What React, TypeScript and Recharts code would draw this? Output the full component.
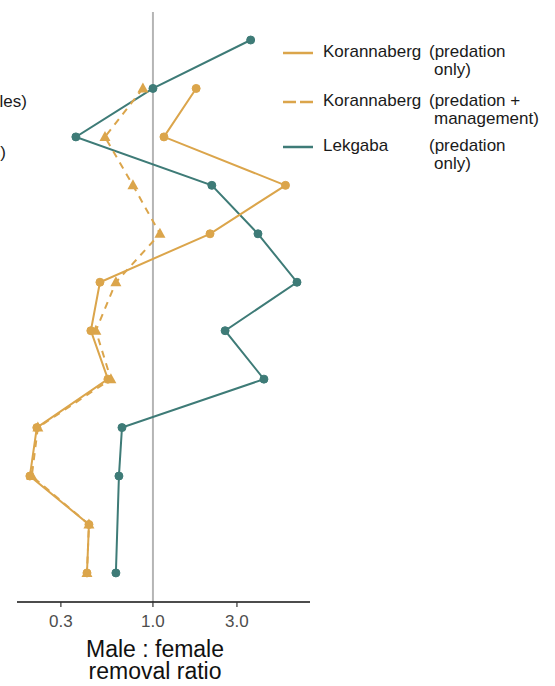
import { LineChart, Line, XAxis, YAxis, ReferenceLine } from "recharts";

// one row per sampling period (row labels are cut off in the source figure)
const rows = ["P1", "P2", "P3", "P4", "P5", "P6", "P7", "P8", "P9", "P10", "P11", "P12"];

const lekgaba = [3.59, 1.0, 0.365, 2.16, 3.95, 6.58, 2.57, 4.27, 0.667, 0.641, null, 0.616];
const koranPredation = [null, 1.76, 1.155, 5.66, 2.11, 0.5, 0.444, 0.555, 0.219, 0.2, 0.433, 0.422];
const koranManagement = [null, 0.877, 0.534, 0.77, 1.096, 0.616, 0.474, 0.577, 0.222, 0.205, 0.433, 0.422];

const xTicks = [0.3, 1, 3];

const GOLD = "#DBA54B";
const TEAL = "#3E7B77";
const FONT = "'Liberation Sans', Arial, sans-serif";

// rows are placed on a numeric axis (1 = top row)
const data = rows.map((row, i) => ({
  row,
  pos: i + 1,
  lek: lekgaba[i],
  pred: koranPredation[i],
  mgmt: koranManagement[i],
}));

const Triangle = (props: any) => {
  const { cx, cy, index } = props;
  if (cx == null || cy == null || props.value == null) return <g key={`t-${index}`} />;
  return (
    <path
      key={`t-${index}`}
      d={`M${cx},${cy - 6} L${cx + 5.5},${cy + 4} L${cx - 5.5},${cy + 4} Z`}
      fill={GOLD}
    />
  );
};

const legendItems = [
  { name: "Korannaberg", first: "(predation", second: "only)", color: GOLD, dashed: false, y: 53 },
  { name: "Korannaberg", first: "(predation +", second: "management)", color: GOLD, dashed: true, y: 102 },
  { name: "Lekgaba", first: "(predation", second: "only)", color: TEAL, dashed: false, y: 147 },
];

const textStyle = { position: "absolute" as const, color: "#1a1a1a", whiteSpace: "nowrap" as const };

export default function App() {
  return (
    <div
      style={{
        position: "absolute",
        top: 0,
        left: 0,
        width: 555,
        height: 686,
        background: "#fff",
        fontFamily: FONT,
        overflow: "hidden",
      }}
    >
      <LineChart
        width={555}
        height={686}
        data={data}
        layout="vertical"
        margin={{ top: 12, right: 245, bottom: 44, left: 17 }}
      >
        <XAxis
          type="number"
          scale="log"
          domain={[0.169, 7.8]}
          ticks={xTicks}
          allowDataOverflow
          height={40}
          tickFormatter={(v: number) => v.toFixed(1)}
          tick={{ fill: "#4d4d4d", fontSize: 17, fontFamily: FONT }}
          tickSize={5}
          tickMargin={8}
          axisLine={{ stroke: "#111", strokeWidth: 1.5 }}
          tickLine={{ stroke: "#333", strokeWidth: 1.2 }}
        />
        <YAxis type="number" dataKey="pos" hide domain={[0.422, 12.6]} allowDataOverflow />
        <ReferenceLine x={1} stroke="#b5b5b5" strokeWidth={2} />
        <Line
          dataKey="lek"
          stroke={TEAL}
          strokeWidth={2}
          connectNulls
          dot={{ r: 4, fill: TEAL, stroke: TEAL, strokeWidth: 1 }}
          isAnimationActive={false}
        />
        <Line
          dataKey="pred"
          stroke={GOLD}
          strokeWidth={2}
          dot={{ r: 4, fill: GOLD, stroke: GOLD, strokeWidth: 1 }}
          isAnimationActive={false}
        />
        <Line
          dataKey="mgmt"
          stroke={GOLD}
          strokeWidth={2}
          strokeDasharray="7 6"
          dot={<Triangle />}
          isAnimationActive={false}
        />
      </LineChart>

      {/* cut-off row labels at the left edge */}
      <div style={{ ...textStyle, right: 528, top: 92, fontSize: 17 }}>(females)</div>
      <div style={{ ...textStyle, right: 549, top: 143, fontSize: 17 }}>(males)</div>

      {/* legend */}
      {legendItems.map((it) => (
        <div key={it.first + it.y}>
          <svg width={32} height={6} style={{ position: "absolute", left: 282, top: it.y - 3 }}>
            <line
              x1={1}
              x2={31}
              y1={3}
              y2={3}
              stroke={it.color}
              strokeWidth={2.5}
              strokeDasharray={it.dashed ? "13 4" : undefined}
            />
          </svg>
          <div style={{ ...textStyle, left: 323, top: it.y - 10, fontSize: 17, lineHeight: "18px" }}>{it.name}</div>
          <div style={{ ...textStyle, left: 429, top: it.y - 10, fontSize: 17, lineHeight: "18px" }}>
            {it.first}
            <br />
            <span style={{ paddingLeft: 5 }}>{it.second}</span>
          </div>
        </div>
      ))}

      {/* x axis title */}
      <div style={{ ...textStyle, left: 55, width: 200, top: 639, textAlign: "center", fontSize: 23, lineHeight: "21px", color: "#111" }}>
        Male : female
      </div>
      <div style={{ ...textStyle, left: 55, width: 200, top: 661, textAlign: "center", fontSize: 23, lineHeight: "21px", color: "#111" }}>
        removal ratio
      </div>
    </div>
  );
}
